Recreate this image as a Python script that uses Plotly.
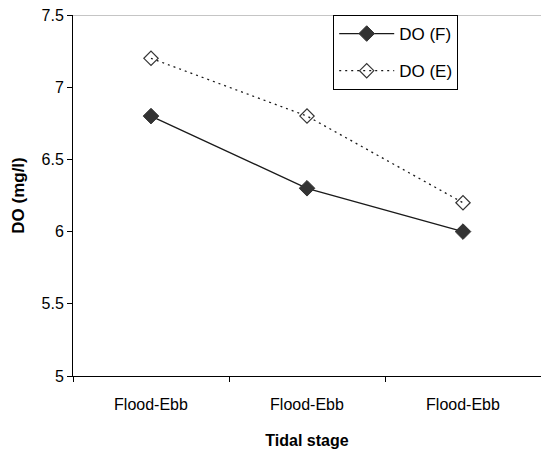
import plotly.graph_objects as go

# Tidal stage categories and dissolved-oxygen readings (mg/l)
stages = ["Flood-Ebb", "Flood-Ebb", "Flood-Ebb"]
do_flood = [6.8, 6.3, 6.0]
do_ebb = [7.2, 6.8, 6.2]
y_ticks = [5, 5.5, 6, 6.5, 7, 7.5]

xpos = list(range(len(stages)))
ink = "#1a1a1a"

fig = go.Figure()
fig.add_trace(go.Scatter(
    x=xpos, y=do_flood, name="DO (F)", mode="lines+markers",
    legendgroup="f",
    line=dict(color=ink, width=1.3),
    marker=dict(symbol="diamond", size=12, color="#333333",
                line=dict(color="#333333", width=1)),
))
fig.add_trace(go.Scatter(
    x=xpos, y=do_ebb, name="DO (E)", mode="lines+markers",
    legendgroup="e",
    line=dict(color=ink, width=1.3, dash="2px,4px"),
    marker=dict(symbol="diamond-open", size=11, color="#333333",
                line=dict(color="#333333", width=1.2)),
))

# top border of the plot area (light grey)
fig.add_shape(type="line", xref="paper", yref="y", x0=0, x1=1, y0=7.5, y1=7.5,
              line=dict(color="#8c8c8c", width=1))

font = "Liberation Sans, Arial, sans-serif"
fig.update_layout(
    width=541, height=456,
    margin=dict(l=73, r=0, t=15, b=80),
    paper_bgcolor="white", plot_bgcolor="white",
    font=dict(family=font, color="black", size=16),
    showlegend=True,
    legend=dict(
        x=0.556, y=1.0, xanchor="left", yanchor="top",
        bordercolor="black", borderwidth=1, bgcolor="white",
        font=dict(size=17, family=font),
        traceorder="grouped", tracegroupgap=12,
        itemwidth=55,
    ),
    xaxis=dict(
        range=[-0.5, 2.5], tickvals=xpos, ticktext=stages,
        ticks="", showgrid=False, zeroline=False,
        showline=True, linecolor="black", linewidth=1,
        tickfont=dict(size=16), ticklabelstandoff=14,
        minor=dict(tickvals=[-0.5, 0.5, 1.5, 2.5], ticks="outside",
                   ticklen=5, tickcolor="black", tickwidth=1, showgrid=False),
        title=dict(text="<b>Tidal stage</b>", font=dict(size=16), standoff=22),
    ),
    yaxis=dict(
        range=[5, 7.5], tickvals=y_ticks, ticktext=[f"{v:g}" for v in y_ticks],
        ticks="outside", ticklen=5, tickcolor="black",
        showgrid=False, zeroline=False,
        showline=True, linecolor="black", linewidth=1,
        tickfont=dict(size=16),
        title=dict(text="<b>DO (mg/l)</b>", font=dict(size=17), standoff=12),
    ),
)

fig.write_html("out.html")
